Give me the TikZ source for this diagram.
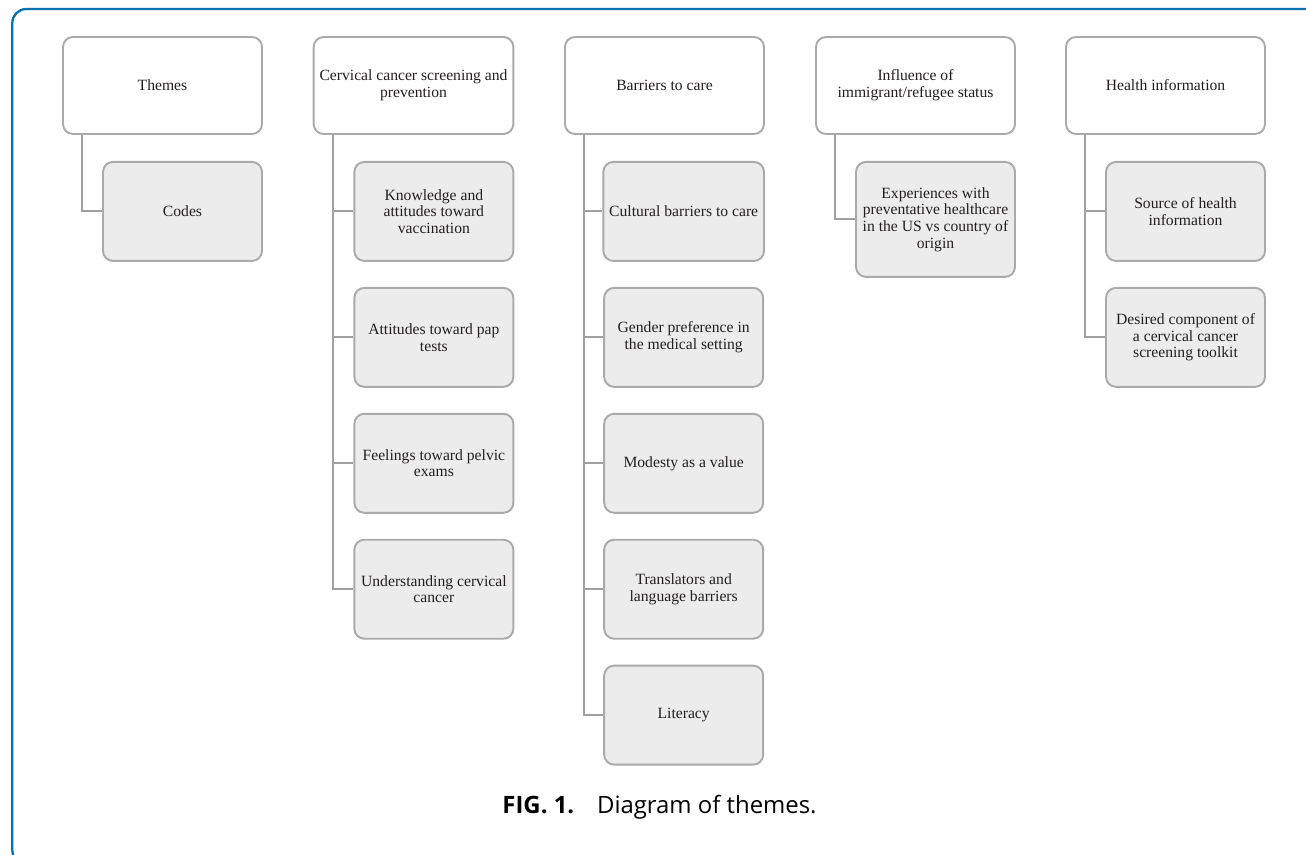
\documentclass[tikz,border=0pt]{standalone}
\usepackage{fontspec}
\setmainfont{Liberation Serif}
\newfontfamily\capfont{Open Sans}
\usetikzlibrary{positioning}

\definecolor{boxline}{RGB}{170,170,170}
\definecolor{boxfill}{RGB}{236,236,236}
\definecolor{linkgray}{RGB}{160,160,160}
\definecolor{frameblue}{RGB}{0,114,175}
\definecolor{textgray}{RGB}{35,31,32}

\begin{document}
\begin{tikzpicture}[node distance=0.5cm]

\tikzset{
    theme/.style={
        draw=boxline,
        line width=1.1pt,
        rounded corners=0.2cm,
        fill=white,
        minimum width=3.98cm,
        minimum height=1.94cm,
        align=center,
        text=textgray,
        font=\fontsize{8.9}{9.5}\selectfont
    },
    code/.style={theme, fill=boxfill, minimum width=3.18cm, minimum height=1.98cm},
    link/.style={draw=linkgray, line width=1.1pt}
}

\useasboundingbox (0,0) rectangle (26.12,-17.1);
\draw[frameblue, line width=1.3pt, rounded corners=0.28cm] (0.246,-0.18) rectangle (26.8,-17.28);

% themes
\node[theme] (thm) at (3.25,-1.71) {Themes};
\node[code, below left=0.52cm and 0cm of thm.south east] (cod) {Codes};
\draw[link] ([xshift=0.4cm]thm.south west) |- (cod.west);

% cervical cancer screening
\node[theme] (ccs) at (8.27,-1.71) {Cervical cancer screening and\\prevention};
\node[code, below left=0.52cm and 0cm of ccs.south east] (know) {Knowledge and\\attitudes toward\\vaccination};
\node[code, below=of know] (att) {Attitudes toward pap\\tests};
\node[code, below=of att] (pelv) {Feelings toward pelvic\\exams};
\node[code, below=of pelv] (und) {Understanding cervical\\cancer};
\foreach \c in {know,att,pelv,und}
    \draw[link] ([xshift=0.4cm]ccs.south west) |- (\c.west);

% barriers
\node[theme] (bar) at (13.29,-1.71) {Barriers to care};
\node[code, below left=0.52cm and 0cm of bar.south east] (cult) {Cultural barriers to care};
\node[code, below=of cult] (gend) {Gender preference in\\the medical setting};
\node[code, below=of gend] (mod) {Modesty as a value};
\node[code, below=of mod] (trans) {Translators and\\language barriers};
\node[code, below=of trans] (lit) {Literacy};
\foreach \c in {cult,gend,mod,trans,lit}
    \draw[link] ([xshift=0.4cm]bar.south west) |- (\c.west);

% immigrant status
\node[theme] (imm) at (18.31,-1.71) {Influence of\\immigrant/refugee status};
\node[code, minimum height=2.3cm, below left=0.52cm and 0cm of imm.south east] (exper) {Experiences with\\preventative healthcare\\in the US vs country of\\origin};
\draw[link] ([xshift=0.4cm]imm.south west) |- (exper.west);

% health information
\node[theme] (hinfo) at (23.31,-1.71) {Health information};
\node[code, below left=0.52cm and 0cm of hinfo.south east] (src) {Source of health\\information};
\node[code, below=of src] (desired) {Desired component of\\a cervical cancer\\screening toolkit};
\foreach \c in {src,desired}
    \draw[link] ([xshift=0.4cm]hinfo.south west) |- (\c.west);

\node[font=\capfont\fontsize{13.6}{15}\selectfont, anchor=base] (cap) at (13.19,-16.27)
    {{\bfseries FIG. 1.}\hspace{13pt}Diagram of themes.};
%
\end{tikzpicture}
\end{document}
